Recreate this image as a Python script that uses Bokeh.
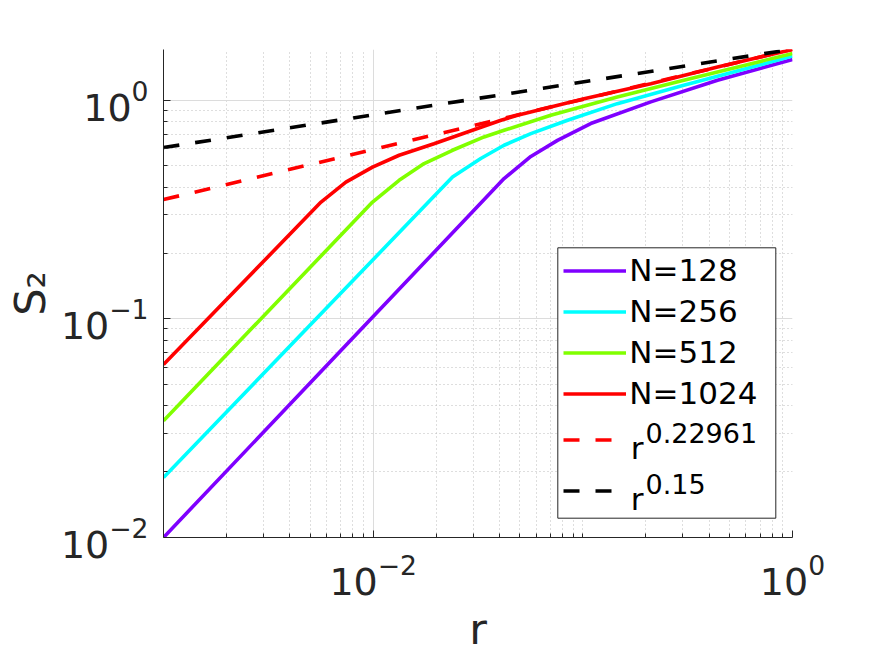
import numpy as np
from bokeh.plotting import figure
from bokeh.models import (FixedTicker, Legend, LegendItem, Label, BoxAnnotation, Range1d)
from bokeh.core.properties import value
from bokeh.embed import file_html
from bokeh.resources import INLINE

# ---------------- data ----------------
r_128 = [0.001, 0.0421, 0.0565, 0.0757, 0.109, 0.211, 0.439, 1.0]
s_128 = [0.0100, 0.438, 0.553, 0.655, 0.782, 0.982, 1.234, 1.535]

r_256 = [0.001, 0.0239, 0.0326, 0.0421, 0.0565, 0.0846, 0.146, 0.303, 1.0]
s_256 = [0.0188, 0.445, 0.541, 0.622, 0.703, 0.809, 0.964, 1.17, 1.59]

r_512 = [0.001, 0.00993, 0.0133, 0.0175, 0.0239, 0.0338, 0.0421, 0.0703, 0.146, 0.303, 1.0]
s_512 = [0.0342, 0.342, 0.430, 0.513, 0.590, 0.679, 0.728, 0.853, 1.035, 1.234, 1.634]

r_1024 = [0.001, 0.00564, 0.00741, 0.00993, 0.0133, 0.0195, 0.0407, 0.0488, 0.1014, 0.211, 0.439, 1.0]
s_1024 = [0.0618, 0.342, 0.422, 0.494, 0.560, 0.632, 0.809, 0.853, 1.016, 1.19, 1.419, 1.705]

fit_r = [0.001, 1.0]
fit_022961 = [0.351, 1.71]
fit_015 = [0.607, 1.71]

series_labels = ["N=128", "N=256", "N=512", "N=1024"]
fit_exponents = ["0.22961", "0.15"]

x_major_ticks = [0.01, 1.0]
x_minor_ticks = [k * 10.0 ** e for e in (-3, -2, -1) for k in range(2, 10)] + [0.1]
y_major_ticks = [0.01, 0.1, 1.0]
y_minor_ticks = [k * 10.0 ** e for e in (-2, -1) for k in range(2, 10)]

# ---------------- figure ----------------
FONT = "DejaVu Sans"
AX = "#262626"

p = figure(frame_width=629, frame_height=488,
           x_axis_type="log", y_axis_type="log",
           x_range=Range1d(0.001, 1.0), y_range=Range1d(0.01, 1.705),
           output_backend="svg", toolbar_location=None,
           min_border_left=163, min_border_right=83,
           min_border_top=49, min_border_bottom=119)
p.outline_line_color = None
p.background_fill_color = "white"
p.border_fill_color = "white"

xt = FixedTicker(ticks=x_major_ticks, minor_ticks=x_minor_ticks)
yt = FixedTicker(ticks=y_major_ticks, minor_ticks=y_minor_ticks)
p.xaxis.ticker = xt
p.yaxis.ticker = yt
p.xgrid.ticker = xt
p.ygrid.ticker = yt

for g in (p.xgrid[0], p.ygrid[0]):
    g.grid_line_color = "#dcdcdc"
    g.grid_line_width = 1
    g.minor_grid_line_color = "#bdbdbd"
    g.minor_grid_line_dash = "1 3"
    g.minor_grid_line_width = 1

for ax in (p.xaxis[0], p.yaxis[0]):
    ax.axis_line_color = AX
    ax.axis_line_width = 1
    ax.major_tick_in = 7
    ax.major_tick_out = 0
    ax.minor_tick_in = 4
    ax.minor_tick_out = 0
    ax.major_tick_line_color = AX
    ax.minor_tick_line_color = AX
    ax.major_label_text_font = FONT
    ax.major_label_text_font_size = "38px"
    ax.major_label_text_color = AX
    ax.axis_label_text_font = FONT
    ax.axis_label_text_font_size = "43px"
    ax.axis_label_text_font_style = "normal"
    ax.axis_label_text_color = AX

p.xaxis.axis_label = "r"
p.yaxis.axis_label = "S\u2082"
p.xaxis.major_label_standoff = 16
p.yaxis.major_label_standoff = 15
p.xaxis.axis_label_standoff = 6
p.yaxis.axis_label_standoff = 3

LW = 3.6
colors = ["#7f00ff", "#00ffff", "#80ff00", "#ff0000"]
rs = [r_128, r_256, r_512, r_1024]
ss = [s_128, s_256, s_512, s_1024]
solid = []
for r, s, c in zip(rs, ss, colors):
    solid.append(p.line(r, s, line_color=c, line_width=LW))
dash_red = p.line(fit_r, fit_022961, line_color="#ff0000", line_width=LW, line_dash="16 16")
dash_blk = p.line(fit_r, fit_015, line_color="#000000", line_width=LW, line_dash="16 16")

# ---------------- legend ----------------
box = BoxAnnotation(left=394.3, right=612.3, bottom=19.3, top=289.7,
                    left_units="screen", right_units="screen",
                    top_units="screen", bottom_units="screen",
                    fill_color="white", fill_alpha=1.0,
                    line_color=AX, line_width=1, line_alpha=1.0)
p.add_layout(box)

legA = Legend(items=[LegendItem(label=value(lab), renderers=[rr]) for lab, rr in zip(series_labels, solid)],
              location=(400.3, 123.3), padding=0, margin=0, spacing=0,
              glyph_width=63, glyph_height=41, label_height=41, label_standoff=3,
              label_text_font=FONT, label_text_font_size="31px", label_text_color="black",
              border_line_color=None, background_fill_alpha=0)
p.add_layout(legA)

legB = Legend(items=[LegendItem(label=value(" "), renderers=[dash_red]),
                     LegendItem(label=value(" "), renderers=[dash_blk])],
              location=(400.3, 21.2), padding=0, margin=0, spacing=0,
              glyph_width=63, glyph_height=51, label_height=51, label_standoff=3,
              label_text_font=FONT, label_text_font_size="10px",
              border_line_color=None, background_fill_alpha=0)
p.add_layout(legB)

for (ry, sy), expo in zip(((90, 105), (39, 54)), fit_exponents):
    p.add_layout(Label(x=467.2, y=ry, x_units="screen", y_units="screen", text="r",
                       text_font=FONT, text_font_size="31px", text_color="black",
                       text_baseline="alphabetic", text_align="left"))
    p.add_layout(Label(x=482, y=sy, x_units="screen", y_units="screen", text=expo,
                       text_font=FONT, text_font_size="27px", text_color="black",
                       text_baseline="alphabetic", text_align="left"))

open("out.html", "w").write(file_html(p, INLINE))
